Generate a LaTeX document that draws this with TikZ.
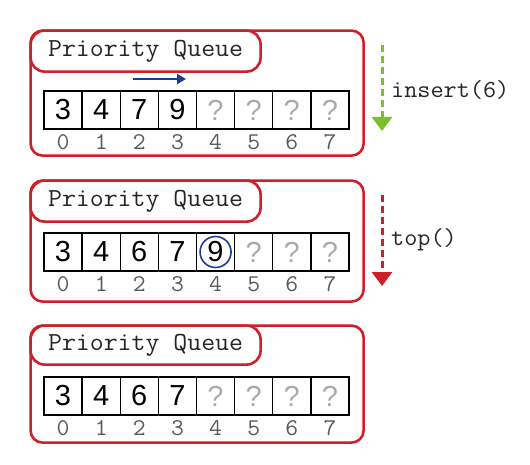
\documentclass[tikz,border=0pt]{standalone}
\usepackage{graphicx}
\usepackage{fontspec}
\setmainfont{Liberation Sans}
\usetikzlibrary{arrows.meta}
\definecolor{pqred}{HTML}{CE2029}
\definecolor{pqgreen}{HTML}{7CBF2A}
\definecolor{pqblue}{HTML}{1F3A93}
\newcommand\pqtt[1]{\scalebox{1.04}[1]{#1}}
\newcommand\pqarray[3]{%
  \foreach \v/\s [count=\i from 0] in {#3} {
    \node[\s] (#1-\i) at ({63.06+38.125*\i},#2) {\v};
    \node[idx] (#1-i\i) at ({63.06+38.125*\i},#2+32) {\pqtt{\i}};
  }%
}
\begin{document}
\begin{tikzpicture}[x=1pt,y=-1pt,
  panel/.style={draw=pqred, line width=2.6pt, rounded corners=12pt, anchor=north west, inner sep=0},
  titlebox/.style={draw=pqred, fill=white, line width=2.6pt, rounded corners=14pt, minimum width=230pt, minimum height=41pt, anchor=north west, inner sep=0, font=\ttfamily\fontsize{26}{26}\selectfont, text=black!85},
  cell/.style={draw=black, line width=1.3pt, minimum width=38.125pt, minimum height=38pt, inner sep=0, font=\fontsize{29}{29}\selectfont},
  empty/.style={cell, text=black!33},
  idx/.style={font=\ttfamily\fontsize{24}{24}\selectfont, text=black!65, inner sep=0},
  opl/.style={font=\ttfamily\fontsize{24.5}{24.5}\selectfont, anchor=west, inner sep=0, text=black!85},
  oparrow/.style={line width=3pt, dash pattern=on 7pt off 4pt, -{Triangle[length=14pt,width=20pt]}}]
\useasboundingbox (0,0) rectangle (530,465);
% panel 1
\node[panel, minimum width=333pt, minimum height=125pt] (p1) at (29.3,29.3) {};
\node[titlebox] (t1) at (29.3,29.3) {\pqtt{Priority Queue}};
\pqarray{a1}{110}{3/cell,4/cell,7/cell,9/cell,?/empty,?/empty,?/empty,?/empty}
\coordinate (bs) at (133,79);
\coordinate (be) at (186,79);
\draw[pqblue, line width=2.2pt, -{Triangle[length=9pt,width=10pt]}] (bs) -- (be);
% panel 2
\node[panel, minimum width=333pt, minimum height=121pt] (p2) at (29.3,179.3) {};
\node[titlebox] (t2) at (29.3,179.3) {\pqtt{Priority Queue}};
\pqarray{a2}{252}{3/cell,4/cell,6/cell,7/cell,9/cell,?/empty,?/empty,?/empty}
\node[draw=pqblue, circle, line width=1.6pt, minimum size=31pt, inner sep=0] (c9) at (a2-4) {};
% panel 3
\node[panel, minimum width=333pt, minimum height=117pt] (p3) at (29.3,324.3) {};
\node[titlebox, minimum height=39pt] (t3) at (29.3,324.3) {\pqtt{Priority Queue}};
\pqarray{a3}{396}{3/cell,4/cell,6/cell,7/cell,?/empty,?/empty,?/empty,?/empty}
% operations
\coordinate (g1) at (382,45);
\coordinate (g2) at (382,131);
\draw[pqgreen, oparrow] (g1) -- (g2);
\node[opl] (ins) at (391,90) {\pqtt{insert(6)}};
\coordinate (r1) at (382,195);
\coordinate (r2) at (382,286);
\draw[pqred, oparrow] (r1) -- (r2);
\node[opl] (top) at (391,240) {\pqtt{top()}};
\end{tikzpicture}
\end{document}
